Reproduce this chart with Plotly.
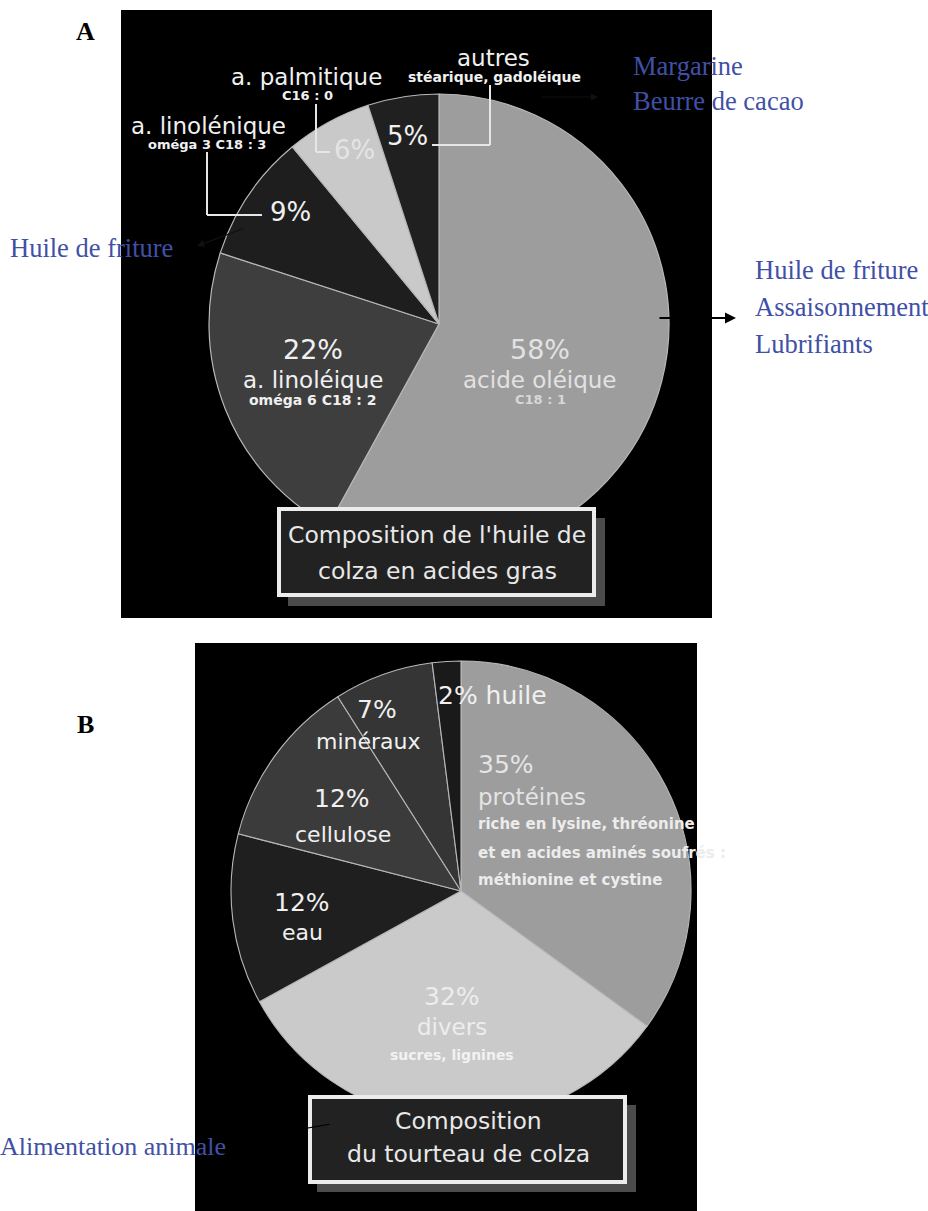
import plotly.graph_objects as go

# ---------------- data ----------------
oil_labels = ["acide oléique", "a. linoléique", "a. linolénique", "a. palmitique", "autres"]
oil_values = [58, 22, 9, 6, 5]

cake_labels = ["protéines", "divers", "eau", "cellulose", "minéraux", "huile"]
cake_values = [35, 32, 12, 12, 7, 2]

uses_oil_main = ["Huile de friture", "Assaisonnement", "Lubrifiants"]
uses_oil_other = ["Margarine", "Beurre de cacao"]
uses_linolenic = ["Huile de friture"]
uses_cake = ["Alimentation animale"]

# ---------------- styles ----------------
oil_colors = ["#9d9d9d", "#3e3e3e", "#1e1e1e", "#c9c9c9", "#202020"]
cake_colors = ["#9d9d9d", "#cacaca", "#1f1f1f", "#3b3b3b", "#353535", "#1a1a1a"]

W, H = 928, 1211
SANS = "DejaVu Sans"
SERIF = "Liberation Serif, Times New Roman, serif"
BLUE = "#4150a6"
LIGHT = "#f0f0f0"


def px(x):
    return x / W


def py(y):
    return 1 - y / H


fig = go.Figure()

fig.add_trace(go.Pie(
    labels=oil_labels, values=oil_values, sort=False, direction="clockwise",
    rotation=0, textinfo="none", hoverinfo="label+percent",
    marker=dict(colors=oil_colors, line=dict(color="#b8b8b8", width=1.2)),
    domain=dict(x=[px(209), px(669)], y=[py(554), py(94)]),
    showlegend=False,
))

fig.add_trace(go.Pie(
    labels=cake_labels, values=cake_values, sort=False, direction="clockwise",
    rotation=0, textinfo="none", hoverinfo="label+percent",
    marker=dict(colors=cake_colors, line=dict(color="#b8b8b8", width=1.1)),
    domain=dict(x=[px(231), px(691)], y=[py(1121), py(661)]),
    showlegend=False,
))

shapes = []


def rect(x0, y0, x1, y1, fill, line_color=None, lw=0, layer="above"):
    shapes.append(dict(type="rect", xref="paper", yref="paper",
                       x0=px(x0), x1=px(x1), y0=py(y1), y1=py(y0),
                       fillcolor=fill, layer=layer,
                       line=dict(color=line_color or fill, width=lw)))


def seg(x0, y0, x1, y1, color="#e6e6e6", w=2):
    shapes.append(dict(type="line", xref="paper", yref="paper",
                       x0=px(x0), x1=px(x1), y0=py(y0), y1=py(y1),
                       layer="above", line=dict(color=color, width=w)))


# black backgrounds
rect(121, 10, 712, 618, "#000000", layer="below")
rect(195, 643, 697, 1211, "#000000", layer="below")

# title boxes (shadow + box)
rect(288, 518, 605, 606, "#4b4b4b")
rect(279, 509, 594, 595, "#222222", "#ececec", 4)
rect(317, 1105, 636, 1192, "#4b4b4b")
rect(310, 1097, 625, 1182, "#222222", "#ececec", 4)

# leader brackets in panel A
seg(207, 152, 207, 215)
seg(207, 215, 262, 215)
seg(316, 104, 316, 152)
seg(316, 152, 330, 152)
seg(490, 85, 490, 145)
seg(432, 145, 490, 145)

annotations = []


def txt(x, y, s, size, color=LIGHT, family=SANS, xanchor="center", bg=None):
    d = dict(x=px(x), y=py(y), xref="paper", yref="paper", text=s,
             showarrow=False, xanchor=xanchor, yanchor="middle",
             font=dict(size=size, color=color, family=family))
    if bg:
        d["bgcolor"] = bg
    annotations.append(d)


def small(x, y, s, size, color=LIGHT, xanchor="center"):
    txt(x, y, f"<b>{s}</b>", size, color, SANS, xanchor)


def arrow(x, y, ax, ay, color="#000000", w=1.5, size=1.2):
    annotations.append(dict(x=px(x), y=py(y), xref="paper", yref="paper",
                            ax=ax, ay=ay, text="", showarrow=True,
                            arrowhead=2, arrowsize=size, arrowwidth=w,
                            arrowcolor=color))


def pct(v):
    return f"{v}%"


# ---- panel A labels ----
txt(540, 350, pct(oil_values[0]), 27, "#e2e2e2")
txt(540, 380, oil_labels[0], 23, "#e2e2e2")
small(540, 399, "C18 : 1", 13, "#d8d8d8")

txt(313, 350, pct(oil_values[1]), 27)
txt(313, 380, oil_labels[1], 23)
small(313, 400, "oméga 6 C18 : 2", 14)

txt(290, 212, pct(oil_values[2]), 26)
txt(208, 126, oil_labels[2], 23)
small(207, 144, "oméga 3 C18 : 3", 13)

txt(354, 150, pct(oil_values[3]), 26, "#e4e4e4")
txt(306, 77, oil_labels[3], 23)
small(307, 95, "C16 : 0", 13)

txt(407, 136, pct(oil_values[4]), 26)
txt(493, 58, oil_labels[4], 23)
small(494, 77, "stéarique, gadoléique", 14)

txt(437, 535, "Composition de l'huile de", 23.5, "#e8e8e8")
txt(437, 571, "colza en acides gras", 23.5, "#e8e8e8")

# ---- panel B labels ----
txt(492, 695, f"{pct(cake_values[5])} {cake_labels[5]}", 25)
txt(377, 710, pct(cake_values[4]), 25)
txt(368, 741, cake_labels[4], 22)
txt(342, 798, pct(cake_values[3]), 25)
txt(343, 834, cake_labels[3], 22)
txt(302, 902, pct(cake_values[2]), 25)
txt(302, 932, cake_labels[2], 22)
txt(476, 764, pct(cake_values[0]), 25, "#e4e4e4", xanchor="left")
txt(476, 797, cake_labels[0], 23, "#e4e4e4", xanchor="left")
small(476, 824, "riche en lysine, thréonine", 15, "#ececec", xanchor="left")
small(476, 853, "et en acides aminés soufrés :", 15, "#ececec", xanchor="left")
small(476, 880, "méthionine et cystine", 15, "#ececec", xanchor="left")
txt(452, 996, pct(cake_values[1]), 25, "#ededed")
txt(452, 1027, cake_labels[1], 23, "#ededed")
small(452, 1055, "sucres, lignines", 14, "#f2f2f2")

txt(468, 1121, "Composition", 23.5, "#e8e8e8")
txt(468, 1154, "du tourteau de colza", 23.5, "#e8e8e8")

# ---- panel letters ----
txt(85, 32, "<b>A</b>", 26, "#000000", SERIF)
txt(85, 724, "<b>B</b>", 26, "#000000", SERIF)

# ---- blue uses ----
for i, s in enumerate(uses_oil_other):
    txt(631, 66 + 35 * i, s, 26.5, BLUE, SERIF, xanchor="left")
for i, s in enumerate(uses_oil_main):
    txt(753, 270 + 37 * i, s, 26.5, BLUE, SERIF, xanchor="left")
txt(8, 248, uses_linolenic[0], 26.5, BLUE, SERIF, xanchor="left")
txt(-2, 1146, uses_cake[0], 26, BLUE, SERIF, xanchor="left")

# ---- arrows ----
arrow(736, 318, -78, 0, w=2, size=1.1)
arrow(598, 97, -58, 0, color="#111111", w=1.2)
arrow(197, 246, 48, -18, color="#111111", w=1.2)
arrow(250, 1138, 81, -14, w=1.2, size=1.3)

fig.update_layout(
    width=W, height=H,
    margin=dict(l=0, r=0, t=0, b=0),
    paper_bgcolor="#ffffff", plot_bgcolor="#ffffff",
    shapes=shapes, annotations=annotations,
    showlegend=False,
)

fig.write_html(
    "out.html",
    config={"displayModeBar": False},
    post_script="document.body.style.margin='0';document.body.style.overflow='hidden';",
)
